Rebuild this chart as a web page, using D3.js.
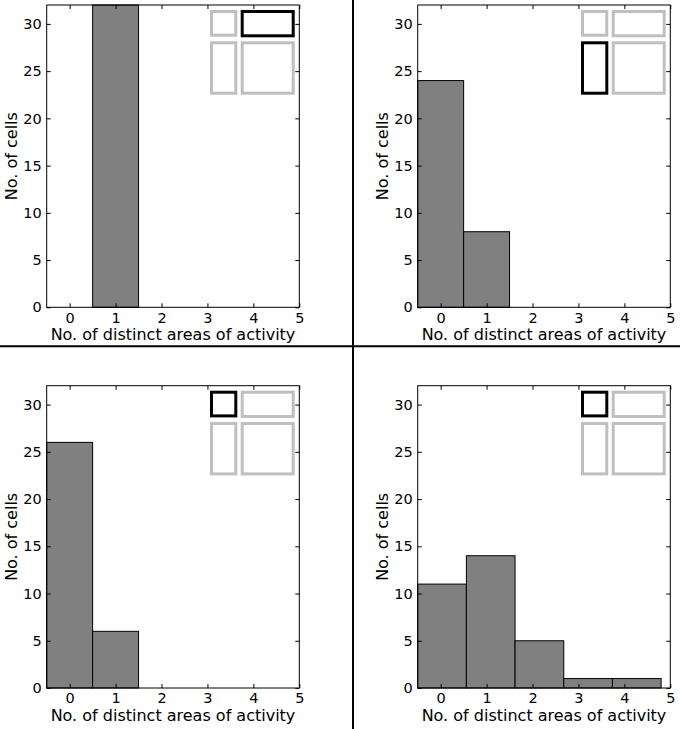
<!DOCTYPE html>
<html>
<head>
<meta charset="utf-8">
<script src="https://cdn.jsdelivr.net/npm/d3@7"></script>
<style>
  html, body { margin: 0; padding: 0; background: #fff; }
  svg { display: block; }
  text { font-family: "DejaVu Sans", sans-serif; fill: #000; }
</style>
</head>
<body>
<svg id="chart" width="680" height="729"></svg>
<script>
// ---- data ----
const xTicks = [0, 1, 2, 3, 4, 5];
const yTicks = [0, 5, 10, 15, 20, 25, 30];
const xLabel = "No. of distinct areas of activity";
const yLabel = "No. of cells";

const panelA_binStart = [0.5];
const panelA_binEnd   = [1.5];
const panelA_counts   = [32];

const panelB_binStart = [-0.5, 0.5];
const panelB_binEnd   = [0.5, 1.5];
const panelB_counts   = [24, 8];

const panelC_binStart = [-0.5, 0.5];
const panelC_binEnd   = [0.5, 1.5];
const panelC_counts   = [26, 6];

const panelD_binStart = [-0.5, 0.56, 1.62, 2.68, 3.74];
const panelD_binEnd   = [0.56, 1.62, 2.68, 3.74, 4.8];
const panelD_counts   = [11, 14, 5, 1, 1];

const highlights = ["topRight", "bottomLeft", "topLeft", "topLeft"];

// ---- layout ----
const svg = d3.select("#chart");
const plotW = 252.6, plotH = 302.3;
const panels = [
  { x0: 46.7,  y0: 5,     s: panelA_binStart, e: panelA_binEnd, c: panelA_counts, h: highlights[0] },
  { x0: 417.7, y0: 5,     s: panelB_binStart, e: panelB_binEnd, c: panelB_counts, h: highlights[1] },
  { x0: 46.7,  y0: 385.7, s: panelC_binStart, e: panelC_binEnd, c: panelC_counts, h: highlights[2] },
  { x0: 417.7, y0: 385.7, s: panelD_binStart, e: panelD_binEnd, c: panelD_counts, h: highlights[3] }
];

// inset boxes (pixels relative to plot origin, stroke-centred)
const insetBoxes = {
  topLeft:     { x1: 164.8, x2: 189.1, y1: 6.5,  y2: 30.2 },
  topRight:    { x1: 195.5, x2: 246.5, y1: 6.5,  y2: 30.8 },
  bottomLeft:  { x1: 164.8, x2: 189.1, y1: 37.8, y2: 88.2 },
  bottomRight: { x1: 195.5, x2: 246.5, y1: 37.8, y2: 88.2 }
};

panels.forEach(p => {
  const g = svg.append("g").attr("transform", `translate(${p.x0},${p.y0})`);
  const x = d3.scaleLinear().domain([-0.5, 5]).range([0, plotW]);
  const y = d3.scaleLinear().domain([0, 32]).range([plotH, 0]);

  const bins = p.c.map((v, i) => ({ a: p.s[i], b: p.e[i], v }));
  g.selectAll("rect.bar").data(bins).enter().append("rect")
    .attr("class", "bar")
    .attr("x", d => x(d.a))
    .attr("y", d => y(d.v))
    .attr("width", d => x(d.b) - x(d.a))
    .attr("height", d => y(0) - y(d.v))
    .attr("fill", "#808080")
    .attr("stroke", "#000")
    .attr("stroke-width", 1);

  // axes with inward ticks on all sides
  const tl = 4;
  const axB = d3.axisBottom(x).tickValues(xTicks).tickSizeInner(-tl).tickSizeOuter(0).tickPadding(5).tickFormat(d3.format("d"));
  const axT = d3.axisTop(x).tickValues(xTicks).tickSizeInner(-tl).tickSizeOuter(0).tickFormat("");
  const axL = d3.axisLeft(y).tickValues(yTicks).tickSizeInner(-tl).tickSizeOuter(0).tickPadding(5).tickFormat(d3.format("d"));
  const axR = d3.axisRight(y).tickValues(yTicks).tickSizeInner(-tl).tickSizeOuter(0).tickFormat("");

  const styleAxis = sel => {
    sel.select(".domain").remove();
    sel.selectAll(".tick line").attr("stroke", "#000").attr("stroke-width", 1);
    sel.selectAll(".tick text").attr("font-size", 14.5).attr("font-family", "DejaVu Sans").attr("fill", "#000");
  };
  g.append("g").attr("transform", `translate(0,${plotH})`).call(axB).call(styleAxis);
  g.append("g").call(axT).call(styleAxis);
  g.append("g").call(axL).call(styleAxis);
  g.append("g").attr("transform", `translate(${plotW},0)`).call(axR).call(styleAxis);

  // frame
  g.append("rect").attr("x", 0).attr("y", 0).attr("width", plotW).attr("height", plotH)
    .attr("fill", "none").attr("stroke", "#000").attr("stroke-width", 1);

  // inset schematic
  const order = ["topLeft", "topRight", "bottomLeft", "bottomRight"].filter(k => k !== p.h).concat([p.h]);
  order.forEach(k => {
    const b = insetBoxes[k];
    g.append("rect")
      .attr("x", b.x1).attr("y", b.y1)
      .attr("width", b.x2 - b.x1).attr("height", b.y2 - b.y1)
      .attr("fill", "none")
      .attr("stroke", k === p.h ? "#000" : "#bfbfbf")
      .attr("stroke-width", 3);
  });

  // axis labels
  g.append("text").attr("x", plotW / 2).attr("y", plotH + 33)
    .attr("text-anchor", "middle").attr("font-size", 16).text(xLabel);
  g.append("text")
    .attr("transform", `translate(${-30},${plotH / 2}) rotate(-90)`)
    .attr("text-anchor", "middle").attr("font-size", 16).text(yLabel);
});

// divider lines
svg.append("line").attr("x1", 0).attr("x2", 680).attr("y1", 346.3).attr("y2", 346.3)
  .attr("stroke", "#000").attr("stroke-width", 2);
svg.append("line").attr("x1", 353).attr("x2", 353).attr("y1", 0).attr("y2", 729)
  .attr("stroke", "#000").attr("stroke-width", 2);
</script>
</body>
</html>
